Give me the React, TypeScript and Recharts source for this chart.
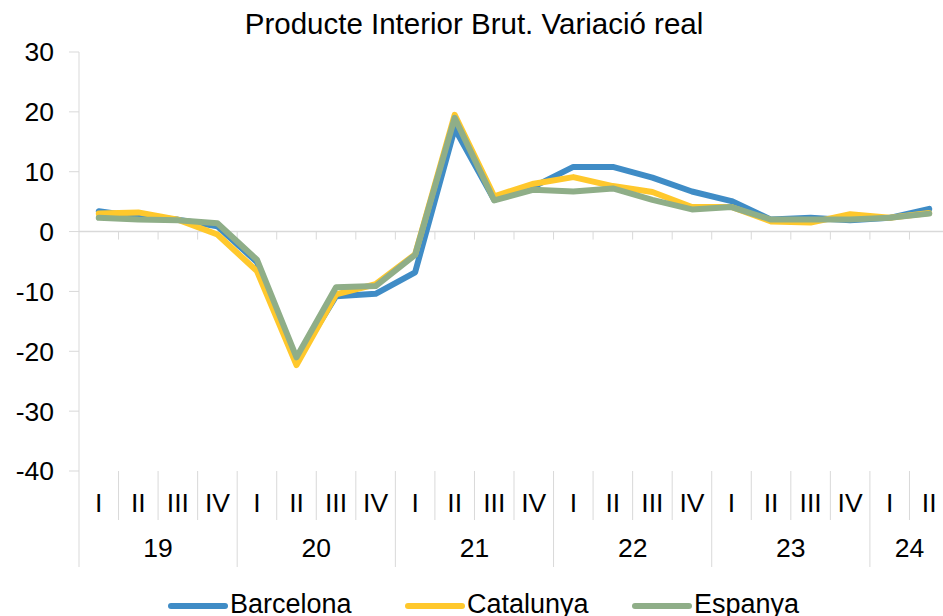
import React from 'react';
import { LineChart, Line, XAxis, YAxis, ReferenceLine } from 'recharts';

// Trimestres i anys
const quarterLabels = [
  'I', 'II', 'III', 'IV',
  'I', 'II', 'III', 'IV',
  'I', 'II', 'III', 'IV',
  'I', 'II', 'III', 'IV',
  'I', 'II', 'III', 'IV',
  'I', 'II',
];
const yearLabels = [
  '19', '19', '19', '19',
  '20', '20', '20', '20',
  '21', '21', '21', '21',
  '22', '22', '22', '22',
  '23', '23', '23', '23',
  '24', '24',
];

// Variació real del PIB (%)
const barcelona = [3.4, 2.5, 2.0, 0.9, -5.1, -21.6, -10.8, -10.4, -6.8, 17.2, 5.3, 7.5, 10.8, 10.8, 9.0, 6.7, 5.1, 2.0, 2.3, 1.9, 2.3, 3.8];
const catalunya = [3.0, 3.2, 2.0, -0.5, -6.6, -22.3, -10.5, -8.8, -3.8, 19.5, 5.9, 8.0, 9.1, 7.6, 6.6, 4.1, 4.1, 1.7, 1.5, 2.9, 2.3, 3.1];
const espanya = [2.3, 2.0, 1.9, 1.4, -4.7, -21.0, -9.3, -9.1, -3.9, 19.0, 5.2, 7.0, 6.7, 7.2, 5.3, 3.7, 4.1, 2.0, 2.0, 2.0, 2.3, 3.0];

const yTicks = [-40, -30, -20, -10, 0, 10, 20, 30];

const seriesList = [
  { key: 'barcelona', name: 'Barcelona', color: '#3f8cc6' },
  { key: 'catalunya', name: 'Catalunya', color: '#ffc82c' },
  { key: 'espanya', name: 'Espanya', color: '#8fae88' },
];

const data = quarterLabels.map((q, i) => ({
  period: `${yearLabels[i]}-${q}-${i}`,
  q,
  year: yearLabels[i],
  barcelona: barcelona[i],
  catalunya: catalunya[i],
  espanya: espanya[i],
}));

const FONT = '"Liberation Sans", Arial, sans-serif';
const GRID = '#d9d9d9';

const QuarterTick = (props: any) => {
  const { x, y, payload, index } = props;
  const half = payload && typeof payload.offset === 'number' && payload.offset > 0 ? payload.offset : 19.77;
  const left = x - half;
  const year = yearLabels[index];
  const isYearStart = index === 0 || year !== yearLabels[index - 1];
  const isLast = index === quarterLabels.length - 1;
  const count = yearLabels.filter((v) => v === year).length;
  return (
    <g>
      <line x1={left} x2={left} y1={y} y2={y + (isYearStart ? 96 : 49)} stroke={GRID} strokeWidth={1} />
      {isLast && <line x1={x + half} x2={x + half} y1={y} y2={y + 96} stroke={GRID} strokeWidth={1} />}
      <text x={x} y={y + 41} textAnchor="middle" fill="#000" fontSize={26.5} fontFamily={FONT}>
        {quarterLabels[index]}
      </text>
      {isYearStart && (
        <text x={left + count * half} y={y + 86} textAnchor="middle" fill="#000" fontSize={26.5} fontFamily={FONT}>
          {year}
        </text>
      )}
    </g>
  );
};

const ZeroAxis = (props: any) => {
  const { x1, x2, y1 } = props;
  const step = (x2 - x1) / data.length;
  return (
    <g>
      <line x1={x1} x2={x2} y1={y1} y2={y1} stroke={GRID} strokeWidth={1.5} />
      {data.map((_, i) => (
        <line key={i} x1={x1 + step * (i + 1)} x2={x1 + step * (i + 1)} y1={y1} y2={y1 + 8} stroke={GRID} strokeWidth={1} />
      ))}
    </g>
  );
};

const legendX = [168, 405, 632];

export default function App() {
  return (
    <div style={{ position: 'fixed', left: 0, top: 0, width: 943, height: 616, overflow: 'hidden', background: '#fff' }}>
      <LineChart width={960} height={616} data={data} margin={{ top: 52, right: 11, bottom: 45, left: 0 }}>
        <YAxis
          domain={[-40, 30]}
          ticks={yTicks}
          interval={0}
          width={79}
          axisLine={{ stroke: GRID, strokeWidth: 1 }}
          tickLine={{ stroke: GRID, strokeWidth: 1 }}
          tickSize={10}
          tickMargin={15}
          tick={{ fill: '#000', fontSize: 26.5, fontFamily: FONT }}
        />
        <XAxis
          dataKey="period"
          scale="band"
          interval={0}
          height={100}
          axisLine={false}
          tickLine={false}
          tickSize={0}
          tickMargin={0}
          tick={<QuarterTick />}
        />
        <ReferenceLine y={0} shape={<ZeroAxis />} />
        {seriesList.map((s) => (
          <Line
            key={s.key}
            type="linear"
            dataKey={s.key}
            name={s.name}
            stroke={s.color}
            strokeWidth={6}
            strokeLinecap="round"
            strokeLinejoin="round"
            dot={false}
            activeDot={false}
            isAnimationActive={false}
          />
        ))}
      </LineChart>
      <svg width={943} height={616} style={{ position: 'absolute', left: 0, top: 0, pointerEvents: 'none' }}>
        <text x={474} y={34} textAnchor="middle" fill="#000" fontSize={29.5} fontFamily={FONT}>
          Producte Interior Brut. Variació real
        </text>
        {seriesList.map((s, i) => (
          <g key={s.key}>
            <line x1={legendX[i] + 3} x2={legendX[i] + 57} y1={606} y2={606} stroke={s.color} strokeWidth={6} strokeLinecap="round" />
            <text x={legendX[i] + 62} y={613} fill="#000" fontSize={27} fontFamily={FONT}>
              {s.name}
            </text>
          </g>
        ))}
      </svg>
    </div>
  );
}
